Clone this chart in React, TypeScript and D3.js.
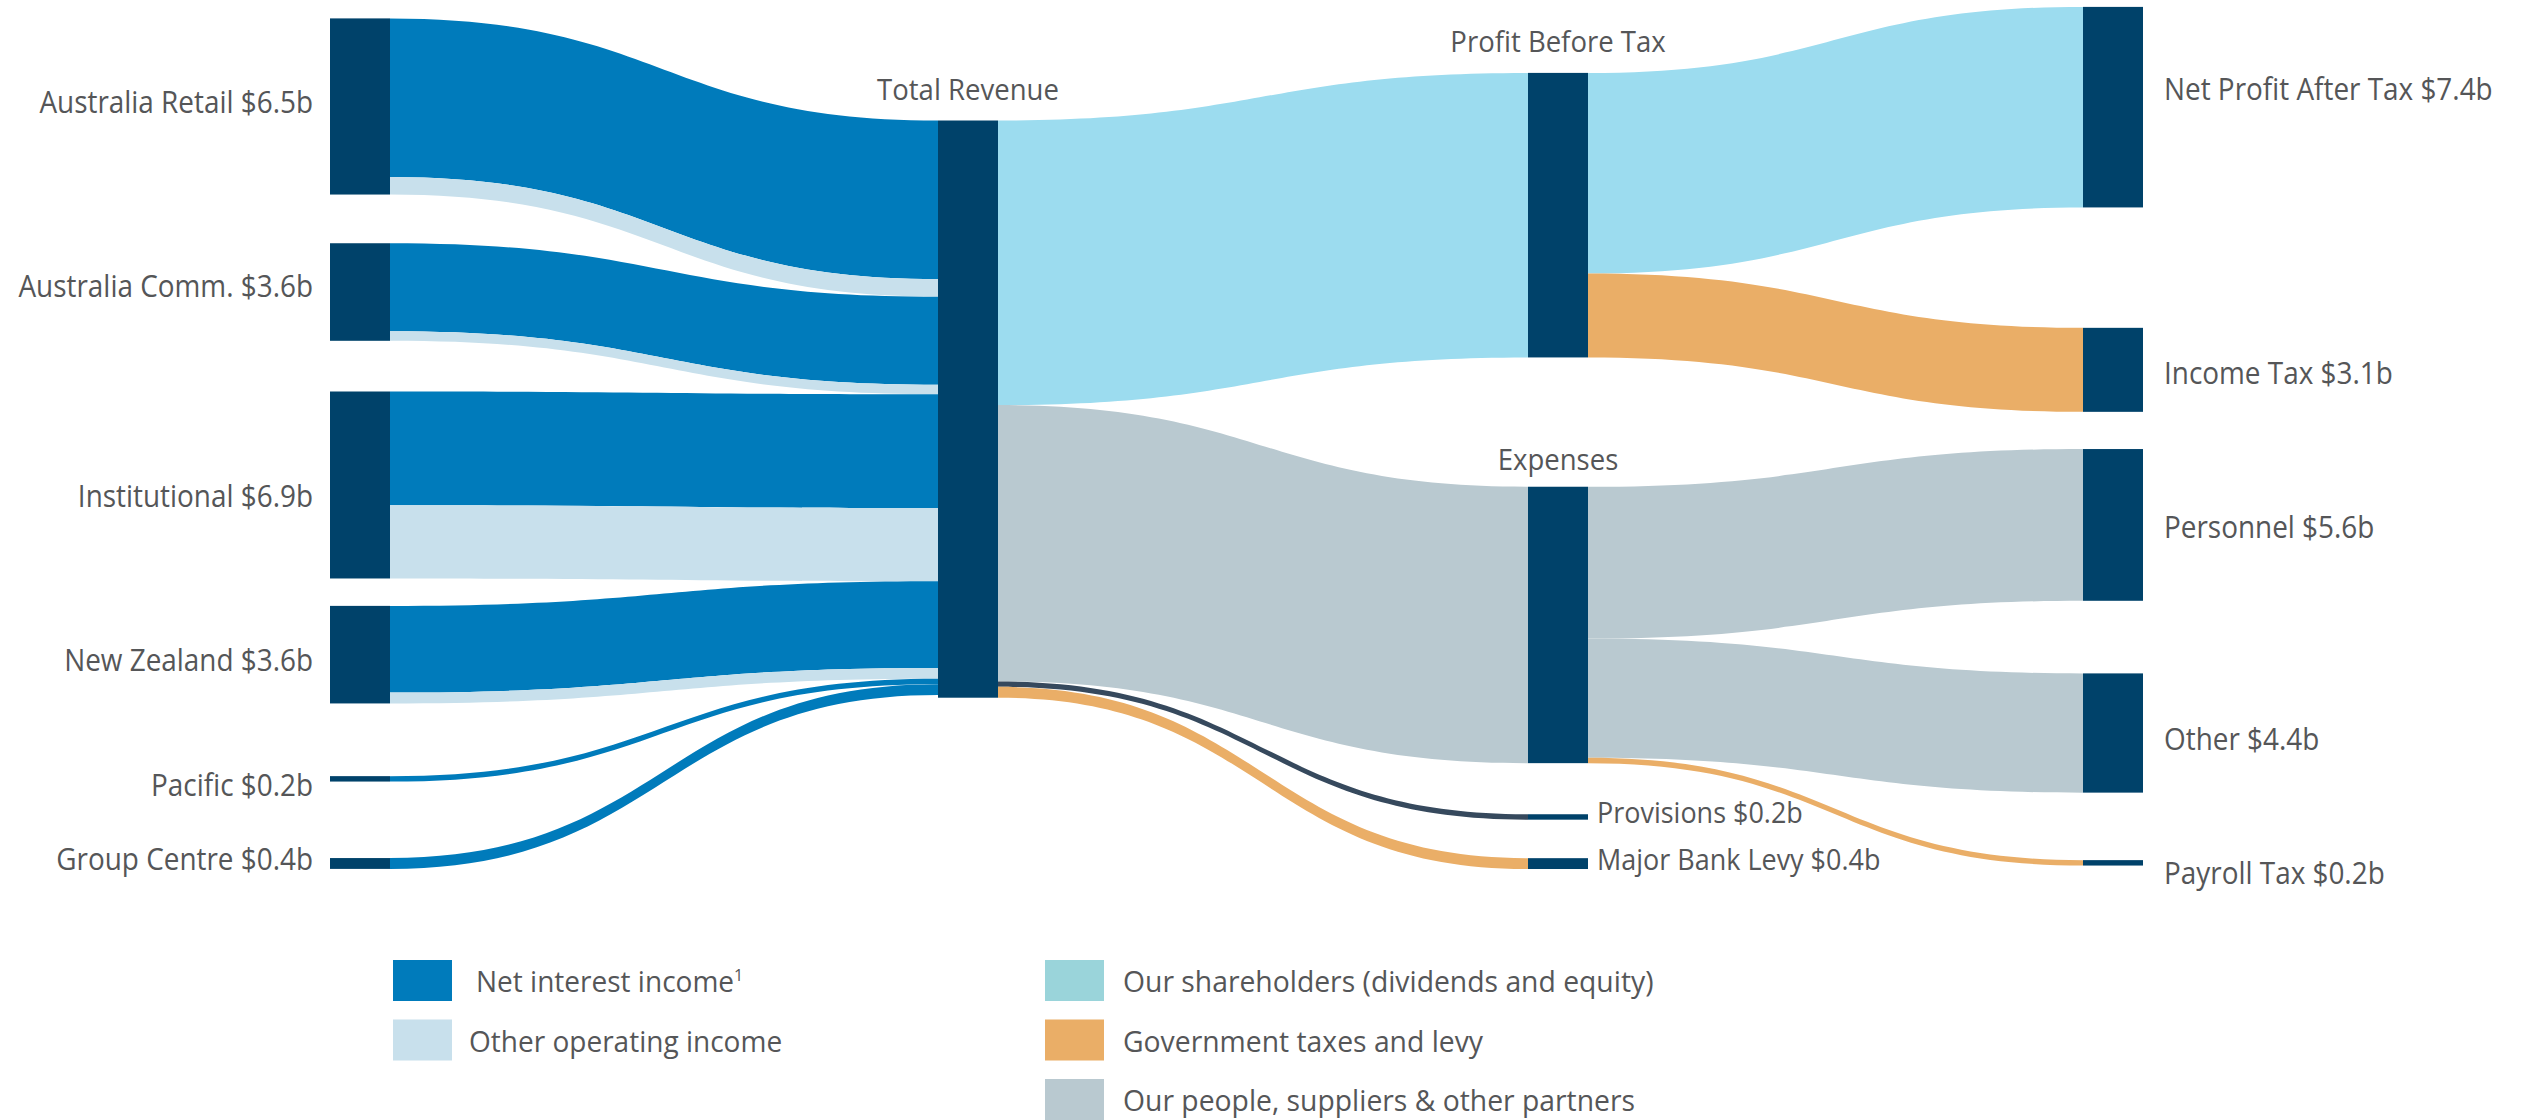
import React, { useEffect } from "react";
import * as d3 from "d3";

// ---------------- DATA ----------------
const segmentNames = ["Australia Retail", "Australia Comm.", "Institutional", "New Zealand", "Pacific", "Group Centre"];
const segmentTotals = [6.5, 3.6, 6.9, 3.6, 0.2, 0.4];
const netInterestIncome = [5.85, 3.25, 4.2, 3.2, 0.2, 0.4];
const otherOperatingIncome = [0.65, 0.35, 2.7, 0.4, 0, 0];

const revenueName = "Total Revenue";
const revenueUseNames = ["Profit Before Tax", "Expenses", "Provisions", "Major Bank Levy"];
const revenueUseValues = [10.5, 10.2, 0.2, 0.4];
const revenueUseShowValue = [false, false, true, true];

const profitNames = ["Net Profit After Tax", "Income Tax"];
const profitValues = [7.4, 3.1];
const expenseNames = ["Personnel", "Other", "Payroll Tax"];
const expenseValues = [5.6, 4.4, 0.2];

const legendLeftLabels = ["Net interest income", "Other operating income"];
const legendRightLabels = [
  "Our shareholders (dividends and equity)",
  "Government taxes and levy",
  "Our people, suppliers & other partners",
];

// ---------------- STYLE / LAYOUT ----------------
const W = 2523;
const H = 1120;
const COL = {
  node: "#00426A",
  nii: "#007BBB",
  ooi: "#C8E0EC",
  profit: "#9CDCEF",
  tax: "#EAAE67",
  cost: "#B9C9D0",
  prov: "#36495D",
  share: "#9AD4DA",
  text: "#555658",
};
const FONT = "'Open Sans', 'Noto Sans', sans-serif";
const columnX = [330, 938, 1528, 2083];
const nodeWidth = 60;
// first-node top and gaps between nodes in each column (px)
const columnTop = [18.4, 120.5, 72.9, 6.9];
const columnGaps = [
  [48.7, 50.7, 27.4, 72.7, 76.5],
  [],
  [129.3, 51.1, 38.5],
  [120.4, 37.2, 72.6, 67.5],
];
const leftLabelDy = [-4, -6, 11, 5, 6, -4];
const rightLabelDy = [-18, 3, 2, 6, 10];
const midSideLabelDy = [0, 0, -5, -5];

type N = {
  id: string;
  label: string;
  col: number;
  place: "left" | "top" | "right";
  dy: number;
  value: number;
  x0: number;
  x1: number;
  y0: number;
  y1: number;
  outY: number;
  inY: number;
};
type L = { s: string; t: string; value: number; color: string; sy0?: number; sy1?: number; ty0?: number; ty1?: number };

function fmt(v: number) {
  return `$${v.toFixed(1)}b`;
}

function buildGraph() {
  const nodes: N[] = [];
  const add = (id: string, label: string, col: number, place: N["place"], dy: number) =>
    nodes.push({ id, label, col, place, dy, value: 0, x0: 0, x1: 0, y0: 0, y1: 0, outY: 0, inY: 0 });

  segmentNames.forEach((n, i) => add(n, `${n} ${fmt(segmentTotals[i])}`, 0, "left", leftLabelDy[i]));
  add(revenueName, revenueName, 1, "top", 0);
  revenueUseNames.forEach((n, i) =>
    add(n, revenueUseShowValue[i] ? `${n} ${fmt(revenueUseValues[i])}` : n, 2, revenueUseShowValue[i] ? "right" : "top", midSideLabelDy[i])
  );
  profitNames.forEach((n, i) => add(n, `${n} ${fmt(profitValues[i])}`, 3, "right", rightLabelDy[i]));
  expenseNames.forEach((n, i) => add(n, `${n} ${fmt(expenseValues[i])}`, 3, "right", rightLabelDy[i + 2]));

  const links: L[] = [];
  segmentNames.forEach((n, i) => {
    if (netInterestIncome[i] > 0) links.push({ s: n, t: revenueName, value: netInterestIncome[i], color: COL.nii });
    if (otherOperatingIncome[i] > 0) links.push({ s: n, t: revenueName, value: otherOperatingIncome[i], color: COL.ooi });
  });
  const useColors = [COL.profit, COL.cost, COL.prov, COL.tax];
  revenueUseNames.forEach((n, i) => links.push({ s: revenueName, t: n, value: revenueUseValues[i], color: useColors[i] }));
  const profitColors = [COL.profit, COL.tax];
  profitNames.forEach((n, i) => links.push({ s: "Profit Before Tax", t: n, value: profitValues[i], color: profitColors[i] }));
  const expColors = [COL.cost, COL.cost, COL.tax];
  expenseNames.forEach((n, i) => links.push({ s: "Expenses", t: n, value: expenseValues[i], color: expColors[i] }));

  const byId = new Map(nodes.map((n) => [n.id, n]));
  nodes.forEach((n) => {
    const inV = d3.sum(links.filter((l) => l.t === n.id), (l) => l.value);
    const outV = d3.sum(links.filter((l) => l.s === n.id), (l) => l.value);
    n.value = Math.max(inV, outV);
  });

  const k = d3.scaleLinear().domain([0, 21.2]).range([0, 574.5]);

  d3.range(4).forEach((c) => {
    const colNodes = nodes.filter((n) => n.col === c);
    let y = columnTop[c];
    colNodes.forEach((n, i) => {
      if (i > 0) y += columnGaps[c][i - 1];
      n.x0 = columnX[c];
      n.x1 = columnX[c] + nodeWidth;
      n.y0 = y;
      n.y1 = y + k(n.value);
      n.outY = n.y0;
      n.inY = n.y0;
      y = n.y1;
    });
  });

  links.forEach((l) => {
    const s = byId.get(l.s)!;
    const t = byId.get(l.t)!;
    const h = k(l.value);
    l.sy0 = s.outY;
    l.sy1 = s.outY + h;
    s.outY += h;
    l.ty0 = t.inY;
    l.ty1 = t.inY + h;
    t.inY += h;
  });

  return { nodes, links, byId };
}

function linkPath(l: L, s: N, t: N) {
  const x0 = s.x1;
  const x1 = t.x0;
  const xm = (x0 + x1) / 2;
  const p = d3.path();
  p.moveTo(x0, l.sy0!);
  p.bezierCurveTo(xm, l.sy0!, xm, l.ty0!, x1, l.ty0!);
  p.lineTo(x1, l.ty1!);
  p.bezierCurveTo(xm, l.ty1!, xm, l.sy1!, x0, l.sy1!);
  p.closePath();
  return p.toString();
}

function SText(props: {
  x: number;
  y: number;
  size: number;
  sx: number;
  anchor?: "start" | "middle" | "end";
  children: React.ReactNode;
}) {
  return (
    <text
      transform={`translate(${props.x},${props.y}) scale(${props.sx},1)`}
      fontSize={props.size}
      textAnchor={props.anchor || "start"}
    >
      {props.children}
    </text>
  );
}

export default function App() {
  useEffect(() => {
    document.body.style.margin = "0";
    document.body.style.overflow = "hidden";
  }, []);

  const { nodes, links, byId } = buildGraph();

  const legendLeftColors = [COL.nii, COL.ooi];
  const legendRightColors = [COL.share, COL.tax, COL.cost];
  const legendRowY = d3.scaleLinear().domain([0, 1]).range([960, 1019.5]);
  const swW = 59;
  const swH = 41;

  return (
    <svg width={W} height={H} style={{ position: "absolute", left: 0, top: 0, background: "#fff" }}>
      <g>
        {links.map((l, i) => (
          <path key={i} d={linkPath(l, byId.get(l.s)!, byId.get(l.t)!)} fill={l.color} stroke="none" />
        ))}
      </g>
      <g>
        {nodes.map((n) => (
          <rect key={n.id} x={n.x0} y={n.y0} width={n.x1 - n.x0} height={Math.max(1, n.y1 - n.y0)} fill={COL.node} />
        ))}
      </g>
      <g fontFamily={FONT} fill={COL.text}>
        {nodes.map((n) => {
          const cy = (n.y0 + n.y1) / 2 + n.dy + 11;
          if (n.place === "left")
            return (
              <SText key={n.id} x={n.x0 - 17} y={cy} size={31} sx={0.9} anchor="end">
                {n.label}
              </SText>
            );
          if (n.place === "right")
            return (
              <SText key={n.id} x={n.col === 3 ? n.x1 + 21 : n.x1 + 9} y={cy} size={n.col === 3 ? 31 : 29} sx={n.col === 3 ? 0.9 : 0.93}>
                {n.label}
              </SText>
            );
          return (
            <SText
              key={n.id}
              x={(n.x0 + n.x1) / 2}
              y={n.y0 - (n.id === "Expenses" ? 17 : 21)}
              size={29}
              sx={0.95}
              anchor="middle"
            >
              {n.label}
            </SText>
          );
        })}
      </g>
      <g fontFamily={FONT} fill={COL.text}>
        {legendLeftLabels.map((t, i) => (
          <g key={t}>
            <rect x={393} y={legendRowY(i)} width={swW} height={swH} fill={legendLeftColors[i]} />
            <SText x={i === 0 ? 476 : 469} y={legendRowY(i) + 32} size={29.5} sx={0.95}>
              {t}
              {i === 0 && (
                <tspan fontSize={17} dy={-11}>
                  1
                </tspan>
              )}
            </SText>
          </g>
        ))}
        {legendRightLabels.map((t, i) => (
          <g key={t}>
            <rect x={1045} y={legendRowY(i)} width={swW} height={swH} fill={legendRightColors[i]} />
            <SText x={1123} y={legendRowY(i) + 32} size={29.5} sx={0.96}>
              {t}
            </SText>
          </g>
        ))}
      </g>
    </svg>
  );
}
